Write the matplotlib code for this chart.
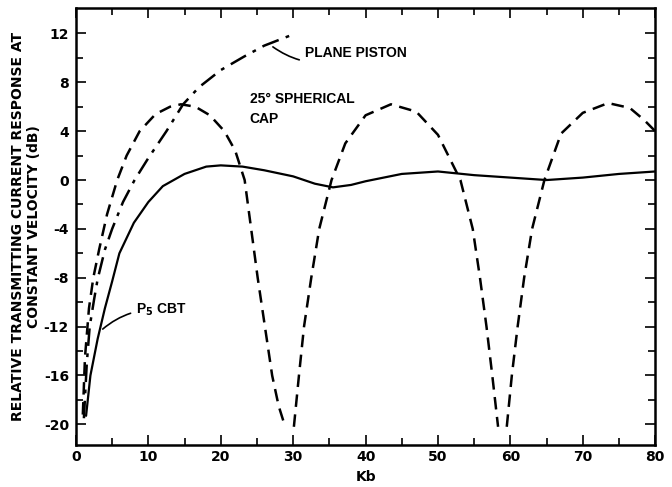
import numpy as np
import matplotlib
matplotlib.use("Agg")
import matplotlib.pyplot as plt

plt.rcParams["axes.unicode_minus"] = False

# P5 CBT (solid)
cbt_x = [1.4, 2.0, 3.0, 4.0, 5.0, 6.0, 8.0, 10.0, 12.0, 15.0, 18.0, 20.0, 23.0, 26.0,
         30.0, 33.0, 35.5, 38.0, 40.0, 45.0, 50.0, 55.0, 60.0, 65.0, 70.0, 75.0, 80.0]
cbt_y = [-19.3, -16.0, -13.0, -10.5, -8.3, -6.0, -3.5, -1.8, -0.5, 0.5, 1.1, 1.2, 1.1, 0.8,
         0.3, -0.3, -0.6, -0.4, -0.1, 0.5, 0.7, 0.4, 0.2, 0.0, 0.2, 0.5, 0.7]

# Plane piston (dash-dot)
pis_x = [1.1, 1.5, 1.9, 2.5, 3.0, 4.0, 5.0, 6.5, 8.1, 10.0, 12.5, 14.8, 17.0, 20.0, 23.2, 26.0, 29.9]
pis_y = [-19.5, -15.0, -12.0, -9.8, -8.1, -5.7, -4.0, -1.8, 0.0, 1.8, 4.0, 6.2, 7.6, 9.0, 10.1, 11.0, 11.9]

# 25 deg spherical cap (dashed); NaN marks the nulls
cap_x = [0.95, 1.25, 1.8, 2.4, 3.2, 4.3, 5.7, 7.0, 8.8, 11.0, 13.0, 14.5, 16.5, 18.5, 20.5, 22.0, 23.3,
         24.2, 25.1, 26.1, 27.1, 28.0, 28.9, np.nan,
         30.1, 30.8, 31.5, 32.5, 33.6, 35.3, 37.2, 40.0, 43.5, 47.0, 50.0, 53.1, 54.8, 55.8, 56.7, 57.5, 58.3, np.nan,
         59.5, 60.2, 61.0, 61.9, 63.0, 64.7, 67.0, 70.0, 73.5, 76.5, 78.5, 80.0]
cap_y = [-19.2, -14.5, -10.5, -8.0, -5.7, -2.8, 0.0, 2.0, 4.0, 5.4, 6.0, 6.2, 6.0, 5.3, 4.0, 2.4, 0.0,
         -4.0, -8.0, -12.0, -16.0, -18.5, -20.2, np.nan,
         -20.2, -16.0, -12.0, -8.0, -4.0, 0.0, 3.0, 5.3, 6.2, 5.6, 3.7, 0.0, -4.0, -8.0, -12.0, -16.0, -20.2, np.nan,
         -20.2, -16.0, -12.0, -8.0, -4.0, 0.0, 3.8, 5.5, 6.3, 5.9, 4.9, 4.0]

x_ticks = [0, 10, 20, 30, 40, 50, 60, 70, 80]
y_ticks = [-20, -16, -12, -8, -4, 0, 4, 8, 12]

fig = plt.figure(figsize=(6.72, 4.87), dpi=100)
ax = fig.add_axes([0.113, 0.086, 0.862, 0.898])

ax.plot(cbt_x, cbt_y, color="black", lw=1.6, solid_capstyle="round")
ax.plot(pis_x, pis_y, color="black", lw=1.8, dashes=(7, 3, 1.5, 3))
ax.plot(cap_x, cap_y, color="black", lw=1.8, dashes=(5, 3))

ax.set_xlim(0, 80)
ax.set_ylim(-21.7, 14.1)
ax.set_xticks(x_ticks)
ax.set_yticks(y_ticks)
ax.set_xticks(np.arange(0, 81, 5), minor=True)
ax.set_yticks(np.arange(-20, 14, 2), minor=True)
ax.tick_params(which="both", direction="in", top=True, right=True, width=1.2,
               labelsize=10)
ax.tick_params(axis="y", which="major", pad=5)
ax.tick_params(which="major", length=7)
ax.tick_params(which="minor", length=5)
for lbl in ax.get_xticklabels() + ax.get_yticklabels():
    lbl.set_fontweight("bold")
for s in ax.spines.values():
    s.set_linewidth(1.8)

ax.set_xlabel("Kb", fontsize=10, fontweight="bold", labelpad=4)
ax.set_ylabel("RELATIVE TRANSMITTING CURRENT RESPONSE AT\nCONSTANT VELOCITY (dB)",
              fontsize=10, fontweight="bold", labelpad=2, linespacing=1.2)

ann_font = dict(family=["Liberation Sans", "DejaVu Sans"], size=10, weight="bold")

# annotations
ax.annotate("PLANE PISTON", xy=(27.2, 10.9), xytext=(31.6, 10.4),
            va="center", ha="left", **ann_font,
            arrowprops=dict(arrowstyle="-", color="black", lw=1.2,
                            connectionstyle="arc3,rad=-0.3",
                            shrinkA=2, shrinkB=0))
ax.text(24.0, 5.8, "25° SPHERICAL\nCAP", **ann_font,
        va="center", ha="left", linespacing=1.5)
ax.annotate("P$_\\mathbf{5}$ CBT", xy=(3.7, -12.2), xytext=(8.3, -10.6),
            va="center", ha="left", **ann_font,
            arrowprops=dict(arrowstyle="-", color="black", lw=1.2,
                            connectionstyle="arc3,rad=0.2",
                            shrinkA=2, shrinkB=0))

fig.savefig("out.png", dpi=100)
